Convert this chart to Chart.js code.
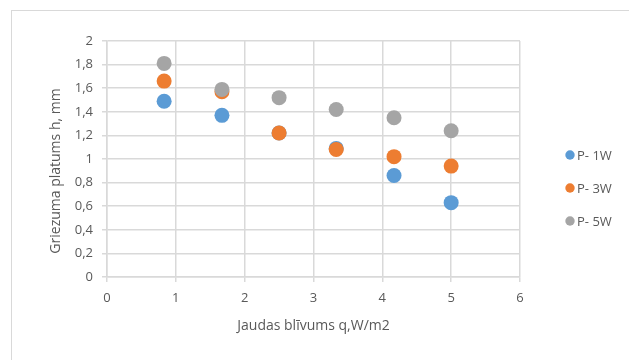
<!DOCTYPE html>
<html>
<head>
<meta charset="utf-8">
<script src="https://cdn.jsdelivr.net/npm/chart.js@4/dist/chart.umd.min.js"></script>
<style>
  html, body { margin: 0; padding: 0; background: #fff; }
  #wrap { position: relative; width: 629px; height: 360px; overflow: hidden; }
  #frame { position: absolute; left: 11px; top: 10px; width: 700px; height: 400px;
           border-left: 1.5px solid #d9d9d9; border-top: 1.5px solid #d9d9d9; }
  canvas { position: absolute; left: 0; top: 0; }
</style>
</head>
<body>
<div id="wrap">
  <div id="frame"></div>
  <canvas id="scatterChart" width="629" height="360"></canvas>
</div>
<script>
// ── data ──
const xValues = [0.83, 1.67, 2.5, 3.33, 4.17, 5];
const p1w = [1.49, 1.37, 1.22, 1.09, 0.86, 0.63];
const p3w = [1.66, 1.57, 1.22, 1.08, 1.02, 0.94];
const p5w = [1.81, 1.59, 1.52, 1.42, 1.35, 1.24];
const seriesLabels = ['P- 1W', 'P- 3W', 'P- 5W'];
const seriesColors = ['#5b9bd5', '#ed7d31', '#a5a5a5'];
const xTitle = 'Jaudas blīvums q,W/m2';
const yTitle = 'Griezuma platums h, mm';

const FONT = "'Open Sans', sans-serif";
const TEXT_COLOR = '#595959';
const GRID_COLOR = '#d9d9d9';

function toPoints(ys) {
    return xValues.map((x, i) => ({ x: x, y: ys[i] }));
}

// legend on the right + y title, placed like the Excel chart
const sideLegend = {
    id: 'sideLegend',
    afterDraw(chart) {
        const ctx = chart.ctx;
        ctx.save();
        ctx.font = `13px ${FONT}`;
        ctx.textBaseline = 'middle';
        seriesLabels.forEach((label, i) => {
            const cx = 570, cy = 155 + i * 33;
            ctx.beginPath();
            ctx.arc(cx, cy, 4.7, 0, Math.PI * 2);
            ctx.fillStyle = seriesColors[i];
            ctx.fill();
            ctx.fillStyle = TEXT_COLOR;
            ctx.fillText(label, cx + 7, cy + 1);
        });

        // y-as titel
        ctx.translate(56, 171);
        ctx.rotate(-Math.PI / 2);
        ctx.font = `14px ${FONT}`;
        ctx.textAlign = 'center';
        ctx.fillStyle = TEXT_COLOR;
        ctx.fillText(yTitle, 0, 0);
        ctx.restore();
    }
};

const datasets = [p1w, p3w, p5w].map((vals, i) => ({
    label: seriesLabels[i],
    data: toPoints(vals),
    backgroundColor: seriesColors[i],
    borderWidth: 0,
    pointRadius: 7.5,
    pointHoverRadius: 7.5,
    order: 3 - i   // grijs bovenaan
}));

new Chart(document.getElementById('scatterChart').getContext('2d'), {
    type: 'scatter',
    data: { datasets },
    options: {
        responsive: false,
        animation: false,
        events: [],
        layout: { padding: { left: 40, top: 41, right: 109, bottom: 26 } },
        plugins: { legend: { display: false }, tooltip: { enabled: false } },
        scales: {
            x: {
                type: 'linear',
                min: 0, max: 6,
                afterFit: s => { s.height = 57; },
                ticks: { stepSize: 1, color: TEXT_COLOR, font: { family: FONT, size: 13 }, padding: 8 },
                grid: { color: GRID_COLOR, tickLength: 5, lineWidth: 1.5 },
                border: { color: GRID_COLOR, width: 1.5 },
                title: { display: true, text: xTitle, color: TEXT_COLOR, font: { family: FONT, size: 14 }, padding: 0 }
            },
            y: {
                type: 'linear',
                min: 0, max: 2,
                afterFit: s => { s.width = 67; },
                ticks: {
                    stepSize: 0.2, color: TEXT_COLOR, font: { family: FONT, size: 13 }, padding: 9,
                    callback: v => String(Math.round(v * 10) / 10).replace('.', ',')
                },
                grid: { color: GRID_COLOR, tickLength: 5, lineWidth: 1.5 },
                border: { color: GRID_COLOR, width: 1.5 }
            }
        }
    },
    plugins: [sideLegend]
});
</script>
</body>
</html>
